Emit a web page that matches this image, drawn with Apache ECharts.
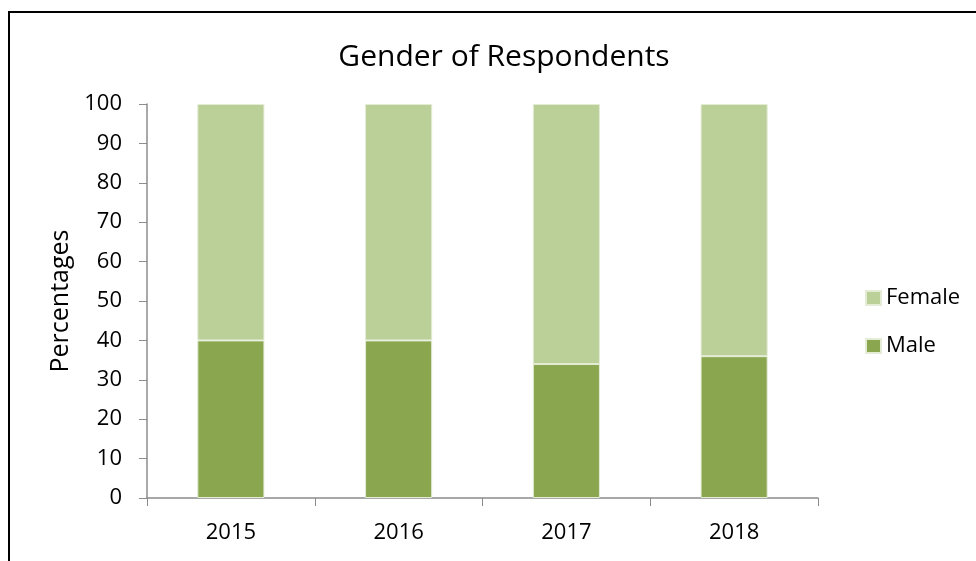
<!DOCTYPE html>
<html>
<head>
<meta charset="utf-8">
<script src="https://cdn.jsdelivr.net/npm/echarts@6/dist/echarts.min.js"></script>
<style>
  html, body { margin: 0; padding: 0; background: #fff; }
  #chart { width: 976px; height: 561px; }
</style>
</head>
<body>
<div id="chart"></div>
<script>
const years = ["2015", "2016", "2017", "2018"];
const male = [40, 40, 34, 36];
const female = [60, 60, 66, 64];
const yTicks = { min: 0, max: 100, interval: 10 };

const font = "'Open Sans', 'Noto Sans', sans-serif";
const chart = echarts.init(document.getElementById("chart"));
chart.setOption({
  animation: false,
  textStyle: { fontFamily: font },
  title: {
    text: "Gender of Respondents",
    left: 499,
    textAlign: "center",
    top: 37,
    textStyle: { fontSize: 30, fontWeight: "normal", color: "#000", fontFamily: font }
  },
  // chart frame (runs off right/bottom edge like the picture)
  graphic: [{
    type: "rect",
    shape: { x: 9, y: 12, width: 1000, height: 600 },
    style: { fill: "none", stroke: "#000", lineWidth: 2 },
    silent: true
  }],
  legend: {
    orient: "vertical",
    left: 860,
    top: 281,
    itemGap: 24,
    itemWidth: 15,
    itemHeight: 14,
    icon: "rect",
    data: ["Female", "Male"],
    textStyle: { fontSize: 22, lineHeight: 24, color: "#000", fontFamily: font }
  },
  grid: { left: 147, top: 104, right: 158, bottom: 63 },
  xAxis: {
    type: "category",
    data: years,
    axisLine: { lineStyle: { color: "#8c8c8c", width: 1.5 } },
    axisTick: { show: true, length: 8, lineStyle: { color: "#8c8c8c" } },
    axisLabel: { color: "#000", fontSize: 22, margin: 24, fontFamily: font }
  },
  yAxis: {
    type: "value",
    min: yTicks.min,
    max: yTicks.max,
    interval: yTicks.interval,
    name: "Percentages",
    nameLocation: "middle",
    nameGap: 72,
    nameTextStyle: { fontSize: 25, color: "#000", fontFamily: font },
    splitLine: { show: false },
    axisLine: { show: true, lineStyle: { color: "#8c8c8c", width: 1.5 } },
    axisTick: { show: true, length: 8, lineStyle: { color: "#8c8c8c" } },
    axisLabel: { color: "#000", fontSize: 22, margin: 25, fontFamily: font }
  },
  series: [
    {
      name: "Male",
      type: "bar",
      stack: "total",
      barWidth: "40%",
      data: male,
      itemStyle: { color: "#8aa64f", borderColor: "#e4ecd6", borderWidth: 1 }
    },
    {
      name: "Female",
      type: "bar",
      stack: "total",
      barWidth: "40%",
      data: female,
      itemStyle: { color: "#bbcf98", borderColor: "#e4ecd6", borderWidth: 1 }
    }
  ]
});
</script>
</body>
</html>
